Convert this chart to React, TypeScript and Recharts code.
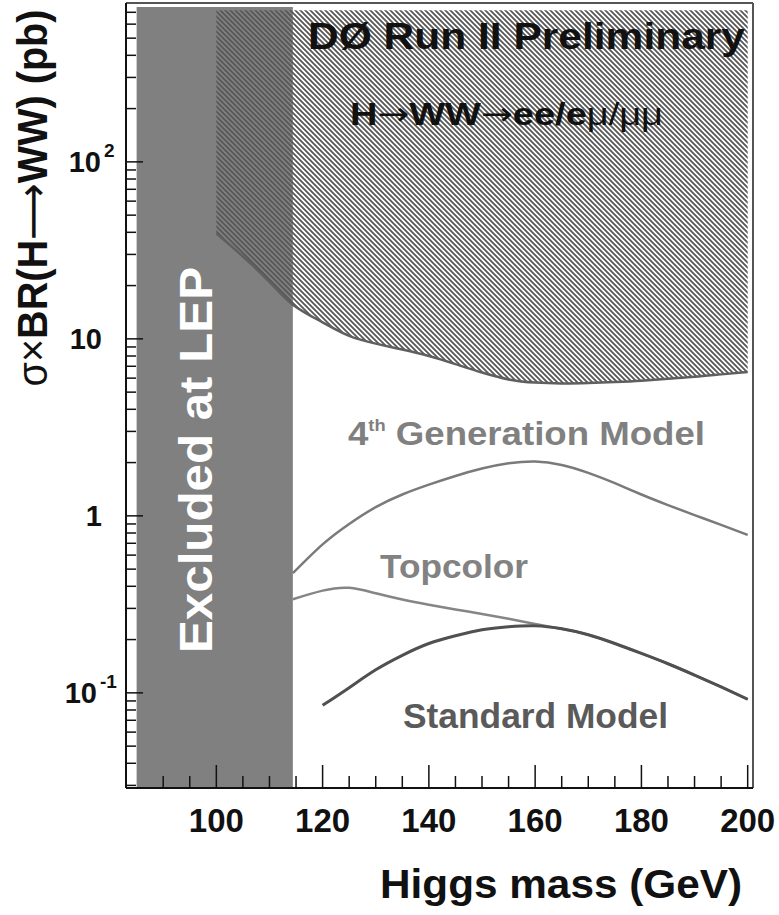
import { Area, ComposedChart, Line, ReferenceLine, XAxis, YAxis } from "recharts";

const FONT = '"Liberation Sans", Arial, Helvetica, sans-serif';

// x axis (Higgs mass, GeV) and y axis (pb, log)
const X_DOMAIN: [number, number] = [83, 201];
const Y_DOMAIN: [number, number] = [0.029, 790];
const X_TICKS = [90, 95, 100, 105, 110, 115, 120, 125, 130, 135, 140, 145, 150, 155, 160, 165, 170, 175, 180, 185, 190, 195, 200];

// LEP exclusion band
const lepMass = [85, 114.4];
const lepLow = [0.029, 0.029];
const lepHigh = [750, 750];

// DØ excluded region (hatched), lower edge = observed limit
const limitMass = [100, 105, 110, 114.4, 120, 125, 130, 135, 140, 145, 150, 155, 160, 165, 170, 175, 180, 185, 190, 195, 200];
const limitLow = [39.5, 29.2, 21, 15.6, 12.4, 10.4, 9.4, 8.7, 8.0, 7.2, 6.45, 5.9, 5.66, 5.6, 5.63, 5.7, 5.8, 5.95, 6.1, 6.3, 6.5];
const limitHigh = 720;

// model predictions
const fourthMass = [114.4, 120, 125, 130, 135, 140, 145, 150, 155, 160, 165, 170, 175, 180, 185, 190, 195, 200];
const fourthVals = [0.474, 0.69, 0.9, 1.12, 1.32, 1.5, 1.68, 1.85, 1.98, 2.03, 1.94, 1.75, 1.53, 1.32, 1.15, 1.01, 0.89, 0.78];

const topMass = [114.4, 120, 125, 130, 135, 140, 145, 150, 155, 160, 165, 170, 175, 180, 185, 190, 195, 200];
const topVals = [0.338, 0.378, 0.392, 0.365, 0.337, 0.315, 0.296, 0.279, 0.262, 0.245, 0.23, 0.213, 0.19, 0.167, 0.146, 0.126, 0.108, 0.092];

const smMass = [120, 125, 130, 135, 140, 145, 150, 155, 160, 165, 170, 175, 180, 185, 190, 195, 200];
const smVals = [0.085, 0.107, 0.135, 0.163, 0.19, 0.21, 0.227, 0.236, 0.239, 0.23, 0.213, 0.19, 0.167, 0.146, 0.126, 0.108, 0.092];

const lepData = lepMass.map((m, i) => ({ m, v: [lepLow[i], lepHigh[i]] }));
const limitData = limitMass.map((m, i) => ({ m, band: [limitLow[i], limitHigh], v: limitLow[i] }));
const fourthData = fourthMass.map((m, i) => ({ m, v: fourthVals[i] }));
const topData = topMass.map((m, i) => ({ m, v: topVals[i] }));
const smData = smMass.map((m, i) => ({ m, v: smVals[i] }));

const yTicks: number[] = [];
for (let d = -2; d <= 2; d++) {
  for (let k = 1; k <= 9; k++) {
    const v = +(k * Math.pow(10, d)).toPrecision(3);
    if (v >= Y_DOMAIN[0] && v <= Y_DOMAIN[1]) yTicks.push(v);
  }
}

function XTick({ x, y, payload }: any) {
  const v = payload.value;
  const major = v % 20 === 0;
  return (
    <g>
      <line x1={x} y1={y} x2={x} y2={y - (major ? 23 : 12)} stroke="#111" strokeWidth={1.5} />
      {major && (
        <text x={x} y={y + 44} textAnchor="middle" fontFamily={FONT} fontWeight="bold" fontSize={33} fill="#111">
          {v}
        </text>
      )}
    </g>
  );
}

function YTick({ x, y, payload }: any) {
  const v = payload.value;
  const exp = Math.round(Math.log10(v));
  const major = Math.abs(v - Math.pow(10, exp)) < 1e-9;
  let label = null;
  if (major) {
    if (exp === 0 || exp === 1) {
      label = (
        <text x={x - 24} y={y + 10} textAnchor="end" fontFamily={FONT} fontWeight="bold" fontSize={29} fill="#111">
          {exp === 0 ? "1" : "10"}
        </text>
      );
    } else {
      const shift = exp < 0 ? 4 : 0;
      label = (
        <g fontFamily={FONT} fontWeight="bold" fill="#111">
          <text x={x - 25 - shift} y={y + 10} textAnchor="end" fontSize={29}>10</text>
          <text x={x - 22 - shift} y={y - 5} textAnchor="start" fontSize={19}>{exp}</text>
        </g>
      );
    }
  }
  return (
    <g>
      <line x1={x} y1={y} x2={x + (major ? 17 : 10)} y2={y} stroke="#111" strokeWidth={1.5} />
      {label}
    </g>
  );
}

export default function App() {
  return (
    <div style={{ position: "relative", width: 779, height: 915, background: "#fff" }}>
      <style>{"body{margin:0}"}</style>
      <ComposedChart width={779} height={915} margin={{ top: 3, right: 26, bottom: 0, left: 0 }}>
        <defs>
          <pattern id="hatch" patternUnits="userSpaceOnUse" width={5} height={5}>
            <path d="M-1,-1 L6,6 M-1,4 L1,6 M4,-1 L6,1" stroke="#575757" strokeWidth={1.8} />
          </pattern>
        </defs>
        <Area data={lepData} dataKey="v" type="linear" fill="#808080" fillOpacity={1} stroke="none" isAnimationActive={false} />
        <Area data={limitData} dataKey="band" type="natural" fill="url(#hatch)" fillOpacity={1} stroke="none" isAnimationActive={false} />
        <Line data={limitData} dataKey="v" type="natural" stroke="#5f5f5f" strokeWidth={2.5} dot={false} isAnimationActive={false} />
        <Line data={fourthData} dataKey="v" type="natural" stroke="#7a7a7a" strokeWidth={2.5} dot={false} isAnimationActive={false} />
        <Line data={topData} dataKey="v" type="natural" stroke="#858585" strokeWidth={2.5} dot={false} isAnimationActive={false} />
        <Line data={smData} dataKey="v" type="natural" stroke="#505050" strokeWidth={3} dot={false} isAnimationActive={false} />
        <ReferenceLine y={Y_DOMAIN[1]} stroke="#555" strokeWidth={2} />
        <ReferenceLine x={X_DOMAIN[1]} stroke="#555" strokeWidth={2} />
        <XAxis
          dataKey="m"
          type="number"
          domain={X_DOMAIN}
          allowDataOverflow
          ticks={X_TICKS}
          interval={0}
          tickSize={0}
          tickMargin={0}
          tickLine={false}
          height={127}
          axisLine={{ stroke: "#111", strokeWidth: 2 }}
          tick={<XTick />}
        />
        <YAxis
          type="number"
          scale="log"
          domain={Y_DOMAIN}
          allowDataOverflow
          ticks={yTicks}
          interval={0}
          tickSize={0}
          tickMargin={0}
          tickLine={false}
          width={126}
          axisLine={{ stroke: "#111", strokeWidth: 2 }}
          tick={<YTick />}
        />
      </ComposedChart>
      <svg width={779} height={915} style={{ position: "absolute", left: 0, top: 0, pointerEvents: "none" }} fontFamily={FONT}>
        <text x={308} y={49} fontSize={36} fontWeight="bold" fill="#111" textLength={437} lengthAdjust="spacingAndGlyphs">
          DØ Run II Preliminary
        </text>
        <text x={350} y={125} fontSize={32} fill="#111" textLength={313} lengthAdjust="spacingAndGlyphs">
          <tspan fontWeight="bold">H</tspan>
          <tspan fontFamily="DejaVu Sans" fontWeight="normal">→</tspan>
          <tspan fontWeight="bold">WW</tspan>
          <tspan fontFamily="DejaVu Sans" fontWeight="normal">→</tspan>
          <tspan fontWeight="bold">ee/e</tspan>
          <tspan fontWeight="normal">μ/μμ</tspan>
        </text>
        <text
          transform="translate(212,460) rotate(-90)"
          textAnchor="middle"
          fontSize={46}
          fontWeight="bold"
          fill="#fff"
          textLength={386}
          lengthAdjust="spacingAndGlyphs"
        >
          Excluded at LEP
        </text>
        <text x={348} y={445} fontSize={34} fontWeight="bold" fill="#808080" textLength={357} lengthAdjust="spacingAndGlyphs">
          <tspan>4</tspan>
          <tspan fontSize={17} dy={-14}>th</tspan>
          <tspan dy={14}> Generation Model</tspan>
        </text>
        <text x={380} y={578} fontSize={33} fontWeight="bold" fill="#828282" textLength={148} lengthAdjust="spacingAndGlyphs">
          Topcolor
        </text>
        <text x={403} y={728} fontSize={35} fontWeight="bold" fill="#5a5a5a" textLength={265} lengthAdjust="spacingAndGlyphs">
          Standard Model
        </text>
        <text x={380} y={898} fontSize={40} fontWeight="bold" fill="#111" textLength={362} lengthAdjust="spacingAndGlyphs">
          Higgs mass (GeV)
        </text>
        <text
          transform="translate(47,198) rotate(-90)"
          textAnchor="middle"
          fontSize={42}
          fontWeight="bold"
          fill="#111"
          textLength={377}
          lengthAdjust="spacingAndGlyphs"
        >
          <tspan fontWeight="normal">σ×</tspan>
          <tspan>BR(H</tspan>
          <tspan fontFamily="DejaVu Sans" fontWeight="normal">⟶</tspan>
          <tspan>WW) (pb)</tspan>
        </text>
      </svg>
    </div>
  );
}
